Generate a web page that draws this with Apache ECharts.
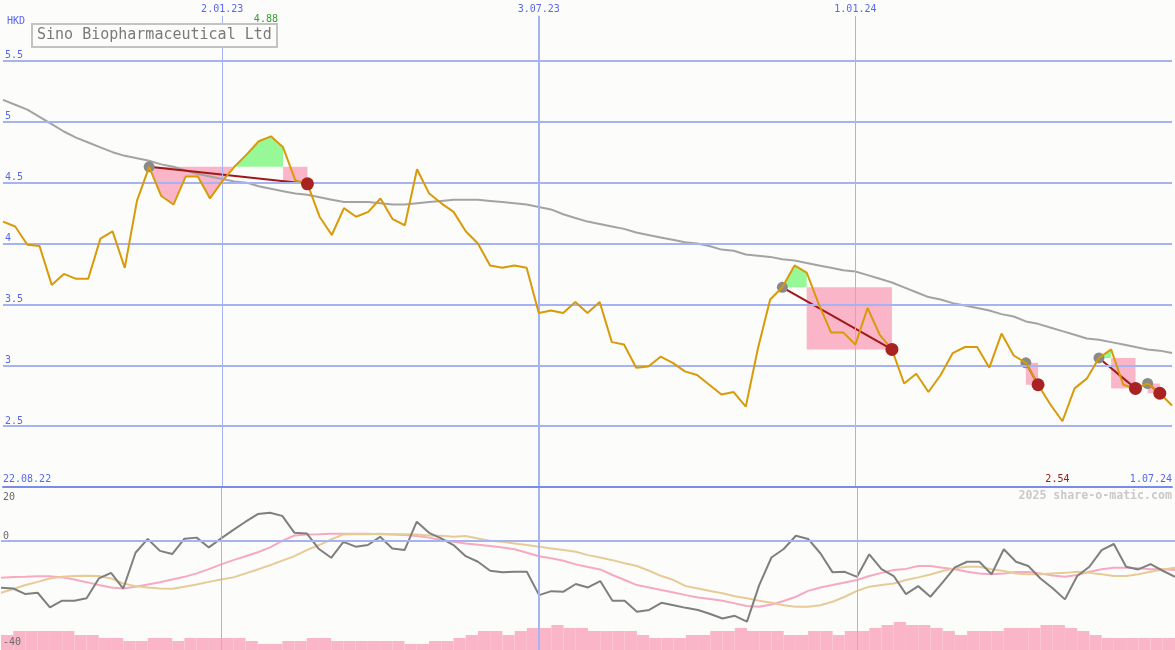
<!DOCTYPE html>
<html><head><meta charset="utf-8">
<script src="https://cdn.jsdelivr.net/npm/echarts@6/dist/echarts.min.js"></script>
<style>html,body{margin:0;padding:0;background:#fcfdfa}#c{width:1175px;height:650px}</style>
</head><body><div id="c"></div>
<script>
// ---- data (weekly, index 0 = 29.08.22) ----
const price = [4.18,4.14,3.99,3.98,3.66,3.75,3.71,3.71,4.04,4.10,
 3.80,4.35,4.63,4.39,4.32,4.55,4.55,4.37,4.51,4.63,
 4.73,4.84,4.88,4.79,4.52,4.49,4.22,4.07,4.29,4.22,
 4.26,4.37,4.20,4.15,4.61,4.41,4.33,4.26,4.10,4.00,
 3.82,3.80,3.82,3.80,3.43,3.45,3.43,3.52,3.43,3.52,
 3.19,3.17,2.98,2.99,3.07,3.02,2.95,2.92,2.84,2.76,
 2.78,2.66,3.14,3.54,3.64,3.82,3.76,3.50,3.27,3.27,
 3.17,3.47,3.25,3.13,2.85,2.93,2.78,2.92,3.10,3.15,
 3.15,2.98,3.26,3.08,3.02,2.84,2.68,2.54,2.81,2.89,
 3.06,3.13,2.84,2.81,2.85,2.77,2.67];
const movingAvg = [5.18,5.14,5.10,5.04,4.98,4.92,4.87,4.83,4.79,4.75,
 4.72,4.70,4.68,4.65,4.63,4.60,4.57,4.55,4.53,4.51,
 4.50,4.47,4.45,4.43,4.41,4.40,4.38,4.36,4.34,4.34,
 4.34,4.33,4.32,4.32,4.33,4.34,4.35,4.36,4.36,4.36,
 4.35,4.34,4.33,4.32,4.30,4.28,4.24,4.21,4.18,4.16,
 4.14,4.12,4.09,4.07,4.05,4.03,4.01,4.00,3.98,3.95,
 3.94,3.91,3.90,3.89,3.87,3.86,3.84,3.82,3.80,3.78,
 3.77,3.74,3.71,3.68,3.64,3.60,3.56,3.54,3.51,3.49,
 3.47,3.45,3.42,3.40,3.36,3.34,3.31,3.28,3.25,3.22,
 3.21,3.19,3.17,3.15,3.13,3.12,3.10];
const oscMain = [-17.6,-17.9,-20.0,-19.5,-25.0,-22.5,-22.5,-21.6,-14.1,-12.0,
 -17.9,-4.4,0.8,-3.7,-4.9,0.9,1.3,-2.4,1.0,4.2,
 7.3,10.2,10.7,9.5,3.1,2.9,-3.0,-6.3,-0.3,-2.1,
 -1.5,1.6,-2.8,-3.4,7.3,3.1,1.0,-1.5,-5.7,-7.8,
 -11.2,-11.8,-11.6,-11.6,-20.4,-18.9,-19.1,-16.2,-17.5,-15.1,
 -22.5,-22.5,-26.7,-26.0,-23.3,-24.2,-25.2,-26.0,-27.5,-29.2,
 -28.2,-30.4,-16.6,-6.2,-3.0,2.0,0.8,-4.6,-11.8,-11.6,
 -13.5,-5.0,-10.6,-13.2,-20.0,-17.0,-21.0,-15.6,-9.9,-7.8,
 -7.8,-12.5,-3.1,-7.8,-9.4,-14.1,-17.8,-22.0,-13.2,-9.7,
 -3.4,-1.1,-9.7,-10.7,-8.7,-11.2,-13.5];
const oscPink = [-13.8,-13.6,-13.5,-13.3,-13.3,-13.7,-14.5,-15.5,-16.6,-17.5,
 -17.9,-17.2,-16.4,-15.5,-14.5,-13.5,-12.2,-10.6,-8.8,-7.2,
 -5.7,-4.2,-2.4,0.1,2.1,2.5,2.6,2.8,2.8,2.8,
 2.8,2.6,2.5,2.3,1.9,1.3,0.4,-0.3,-0.9,-1.4,
 -1.9,-2.4,-3.1,-4.4,-5.7,-6.5,-7.4,-8.8,-9.8,-10.7,
 -12.8,-14.7,-16.6,-17.5,-18.5,-19.4,-20.4,-21.3,-21.9,-22.5,
 -23.5,-24.5,-24.8,-23.9,-22.6,-21.0,-18.8,-17.5,-16.6,-15.6,
 -14.7,-13.2,-12.0,-10.9,-10.5,-9.4,-9.4,-10.1,-10.6,-11.6,
 -12.2,-12.5,-12.2,-11.7,-11.7,-12.2,-13.0,-13.5,-12.8,-11.6,
 -10.6,-10.1,-10.1,-10.3,-10.6,-10.6,-10.9];
const oscTan = [-19.5,-18.1,-16.6,-15.4,-14.1,-13.5,-13.2,-13.1,-13.2,-14.1,
 -16.0,-17.0,-17.5,-17.9,-18.0,-17.2,-16.4,-15.4,-14.5,-13.7,
 -12.2,-10.7,-9.1,-7.4,-5.7,-3.4,-1.5,0.6,2.5,2.6,
 2.6,2.8,2.6,2.6,2.5,2.1,2.0,1.6,1.9,1.0,
 0.1,-0.3,-0.9,-1.5,-2.1,-2.8,-3.4,-4.0,-5.3,-6.2,
 -7.2,-8.4,-9.4,-11.2,-13.2,-14.7,-17.0,-17.9,-18.8,-19.7,
 -20.8,-21.6,-22.5,-23.3,-24.2,-24.8,-24.8,-24.2,-22.9,-21.0,
 -18.8,-17.2,-16.6,-16.0,-14.7,-13.7,-12.6,-11.3,-10.3,-9.7,
 -9.7,-10.6,-11.3,-12.2,-12.5,-12.5,-12.2,-12.0,-11.6,-12.0,
 -12.5,-13.2,-13.2,-12.5,-11.6,-10.7,-10.1];
const volume = [15,19,19,19,19,19,15,15,12,12,
 9,9,12,12,9,12,12,12,12,12,
 9,6,6,9,9,12,12,9,9,9,
 9,9,9,6,6,9,9,12,15,19,
 19,15,19,22,22,25,22,22,19,19,
 19,19,15,12,12,12,15,15,19,19,
 22,19,19,19,15,15,19,19,15,19,
 19,22,25,28,25,25,22,19,15,19,
 19,19,22,22,22,25,25,22,19,15,
 12,12,12,12,12,12];
// trades: entry week, week where the stop block starts, exit week
const tradeEntry = [12, 64, 84, 90, 94];
const tradeStop  = [23, 66, 84, 91, 94];
const tradeExit  = [25, 73, 85, 93, 95];
// labels
const tickWeeks = [18, 44, 70];
const tickLabels = ['2.01.23', '3.07.23', '1.01.24'];
const rangeLabels = ['22.08.22', '1.07.24'];
const priceTicks = [2.5, 3, 3.5, 4, 4.5, 5, 5.5];
const oscTicks = [0, -40];
const oscTopTick = [20];
const titleText = 'Sino Biopharmaceutical Ltd';
const currency = 'HKD';
const credit = '2025 share-o-matic.com';

// ---- style ----
const BG = '#fcfdfa', GRID = '#a7b3f1', BLUE = '#5868ee', PINK = '#fbb5c9', GREEN = '#96f896';
const MONO = 'DejaVu Sans Mono';
const lastWeek = price.length - 1;

const chart = echarts.init(document.getElementById('c'), null, {renderer: 'canvas'});
const xy = arr => arr.map((v, i) => [i, v]);
const maxIdx = price.indexOf(Math.max(...price));
const minIdx = price.indexOf(Math.min(...price));

function fillItem(params, api) {
  const k = params.dataIndex;
  const e = tradeEntry[k], s = tradeStop[k], x = tradeExit[k];
  const L = price[e];
  const children = [];
  if (s > e) {
    const pts = [[e, price[e]]];
    for (let i = e; i < s; i++) {
      const a = price[i], b = price[i + 1];
      if ((a - L) * (b - L) < 0) { const t = (L - a) / (b - a); pts.push([i + t, L]); }
      pts.push([i + 1, b]);
    }
    const up = [[e, L]].concat(pts.map(p => [p[0], Math.max(p[1], L)]), [[s, L]]);
    const dn = [[e, L]].concat(pts.map(p => [p[0], Math.min(p[1], L)]), [[s, L]]);
    children.push({type: 'polygon', shape: {points: up.map(p => api.coord(p))}, style: {fill: GREEN}});
    children.push({type: 'polygon', shape: {points: dn.map(p => api.coord(p))}, style: {fill: PINK}});
  }
  const p1 = api.coord([s, L]), p2 = api.coord([x, price[x]]);
  children.push({type: 'rect', shape: {x: p1[0], y: p1[1], width: p2[0] - p1[0], height: p2[1] - p1[1]}, style: {fill: PINK}});
  return {type: 'group', children};
}
function tradeLine(params, api) {
  const k = params.dataIndex;
  const a = api.coord([tradeEntry[k], price[tradeEntry[k]]]);
  const b = api.coord([tradeExit[k], price[tradeExit[k]]]);
  return {type: 'line', shape: {x1: a[0], y1: a[1], x2: b[0], y2: b[1]}, style: {stroke: '#a01818', lineWidth: 2}};
}

const lineTop = 5.87;  // vertical date lines start just below the date labels
const oscMax = 20.4, oscMin = -41.1;
const mlBase = {symbol: ['none', 'none'], silent: true, animation: false, label: {show: false}};
const lblBase = {inside: true, margin: 2, fontFamily: MONO, fontSize: 10};

const option = {
  backgroundColor: BG,
  animation: false,
  title: [
    {text: titleText, left: 32, top: 24, padding: [3, 5, 3, 5], borderWidth: 2, borderColor: '#c3c3c3',
     backgroundColor: BG,
     textStyle: {fontFamily: MONO, fontSize: 15, lineHeight: 17, fontWeight: 'normal', color: '#7a7a7a'}},
    {text: credit, right: 3, top: 490, padding: 0,
     textStyle: {fontFamily: MONO, fontSize: 11.6, fontWeight: 'bold', color: '#c9c9c9'}}
  ],
  grid: [
    {left: 0, right: 0, top: 0, height: 487},
    {left: 0, right: 0, top: 487, height: 163}
  ],
  xAxis: [
    {gridIndex: 0, type: 'value', min: 0, max: lastWeek, position: 'top', z: 10,
     axisLine: {show: false}, axisTick: {show: false}, splitLine: {show: false},
     axisLabel: Object.assign({}, lblBase, {margin: 4, customValues: tickWeeks, color: BLUE,
       formatter: v => tickLabels[tickWeeks.indexOf(v)] || ''})},
    {gridIndex: 0, type: 'value', min: 0, max: lastWeek, position: 'bottom', z: 10,
     axisLine: {show: true, onZero: false, lineStyle: {color: '#7b8be8', width: 2}}, axisTick: {show: false}, splitLine: {show: false},
     axisLabel: Object.assign({}, lblBase, {margin: 3, customValues: [0, lastWeek], color: BLUE,
       alignMinLabel: 'left', alignMaxLabel: 'right',
       formatter: v => v === 0 ? rangeLabels[0] : rangeLabels[1]})},
    {gridIndex: 1, type: 'value', min: 0, max: lastWeek, show: false},
    {gridIndex: 1, type: 'category', data: volume.map((v, i) => i), boundaryGap: true, show: false}
  ],
  yAxis: [
    {gridIndex: 0, type: 'value', min: 2, max: 6, position: 'left', z: 10,
     name: currency, nameLocation: 'end', nameGap: -21,
     nameTextStyle: {align: 'left', verticalAlign: 'middle', color: BLUE, fontFamily: MONO, fontSize: 10, padding: [0, 0, 0, 4]},
     axisLine: {show: false}, axisTick: {show: false}, splitLine: {show: false},
     axisLabel: Object.assign({}, lblBase, {verticalAlign: 'bottom', customValues: priceTicks, color: BLUE})},
    {gridIndex: 1, type: 'value', min: oscMin, max: oscMax, position: 'left', z: 10,
     axisLine: {show: false}, axisTick: {show: false}, splitLine: {show: false},
     axisLabel: Object.assign({}, lblBase, {verticalAlign: 'bottom', customValues: oscTicks, color: '#6a6a6a'})},
    {gridIndex: 1, type: 'value', min: oscMin, max: oscMax, position: 'left', offset: 0, z: 10,
     axisLine: {show: false}, axisTick: {show: false}, splitLine: {show: false},
     axisLabel: Object.assign({}, lblBase, {verticalAlign: 'top', padding: [4, 0, 0, 0], customValues: oscTopTick, color: '#6a6a6a'})},
    {gridIndex: 1, type: 'value', min: 0, max: 163, show: false}
  ],
  series: [
    // grid lines top panel
    {type: 'line', xAxisIndex: 0, yAxisIndex: 0, data: [], z: 0,
     markLine: Object.assign({}, mlBase, {
       data: priceTicks.map(v => ({yAxis: v, lineStyle: {color: GRID, width: 2, type: 'solid'}})).concat(
         tickWeeks.map((w, i) => [
           {coord: [w, lineTop], lineStyle: {color: GRID, width: i === 1 ? 2 : 1, type: 'solid'}},
           {coord: [w, 2]}]))
     })},
    // grid lines lower panel
    {type: 'line', xAxisIndex: 2, yAxisIndex: 1, data: [], z: 0,
     markLine: Object.assign({}, mlBase, {
       data: [{yAxis: 0, lineStyle: {color: GRID, width: 2, type: 'solid'}}].concat(
         tickWeeks.map((w, i) => [
           {coord: [w, oscMax], lineStyle: {color: GRID, width: i === 1 ? 2 : 1, type: 'solid'}},
           {coord: [w, oscMin]}]))
     })},
    // trade fills
    {type: 'custom', xAxisIndex: 0, yAxisIndex: 0, z: 1, renderItem: fillItem,
     data: tradeEntry.map(e => [e, price[e]]), silent: true},
    // moving average
    {type: 'line', xAxisIndex: 0, yAxisIndex: 0, z: 2, data: xy(movingAvg), symbol: 'none',
     lineStyle: {color: '#a3a3a3', width: 2}},
    // trade connection lines
    {type: 'custom', xAxisIndex: 0, yAxisIndex: 0, z: 3, renderItem: tradeLine,
     data: tradeEntry.map(e => [e, price[e]]), silent: true},
    // entry dots
    {type: 'scatter', xAxisIndex: 0, yAxisIndex: 0, z: 4, symbolSize: 11,
     itemStyle: {color: '#8a8a8a', opacity: 1}, data: tradeEntry.map(e => [e, price[e]])},
    // price
    {type: 'line', xAxisIndex: 0, yAxisIndex: 0, z: 5, data: xy(price), symbol: 'none',
     lineStyle: {color: '#d99a0a', width: 2},
     markPoint: {symbol: 'circle', symbolSize: 1, itemStyle: {color: 'rgba(0,0,0,0)'}, silent: true, animation: false,
       label: {show: true, position: 'inside', offset: [-5, 0], fontFamily: MONO, fontSize: 10,
         formatter: p => Number(p.value).toFixed(2)},
       data: [
         {coord: [maxIdx, 5.84], value: price[maxIdx], label: {color: '#2f9e2f'}},
         {coord: [minIdx, 2.066], value: price[minIdx], label: {color: '#a01818'}}
       ]}},
    // exit dots
    {type: 'scatter', xAxisIndex: 0, yAxisIndex: 0, z: 6, symbolSize: 13,
     itemStyle: {color: '#a82222', opacity: 1}, data: tradeExit.map(x => [x, price[x]])},
    // volume bars
    {type: 'bar', xAxisIndex: 3, yAxisIndex: 3, z: 1, data: volume, barWidth: '100%', barCategoryGap: 0,
     itemStyle: {color: PINK}},
    // oscillators
    {type: 'line', xAxisIndex: 2, yAxisIndex: 1, z: 2, data: xy(oscPink), symbol: 'none',
     lineStyle: {color: '#f7a9c2', width: 2}},
    {type: 'line', xAxisIndex: 2, yAxisIndex: 1, z: 3, data: xy(oscTan), symbol: 'none',
     lineStyle: {color: '#e6cb98', width: 2}},
    {type: 'line', xAxisIndex: 2, yAxisIndex: 1, z: 4, data: xy(oscMain), symbol: 'none',
     lineStyle: {color: '#7f7f7f', width: 2}}
  ]
};
chart.setOption(option);
</script>
</body></html>
